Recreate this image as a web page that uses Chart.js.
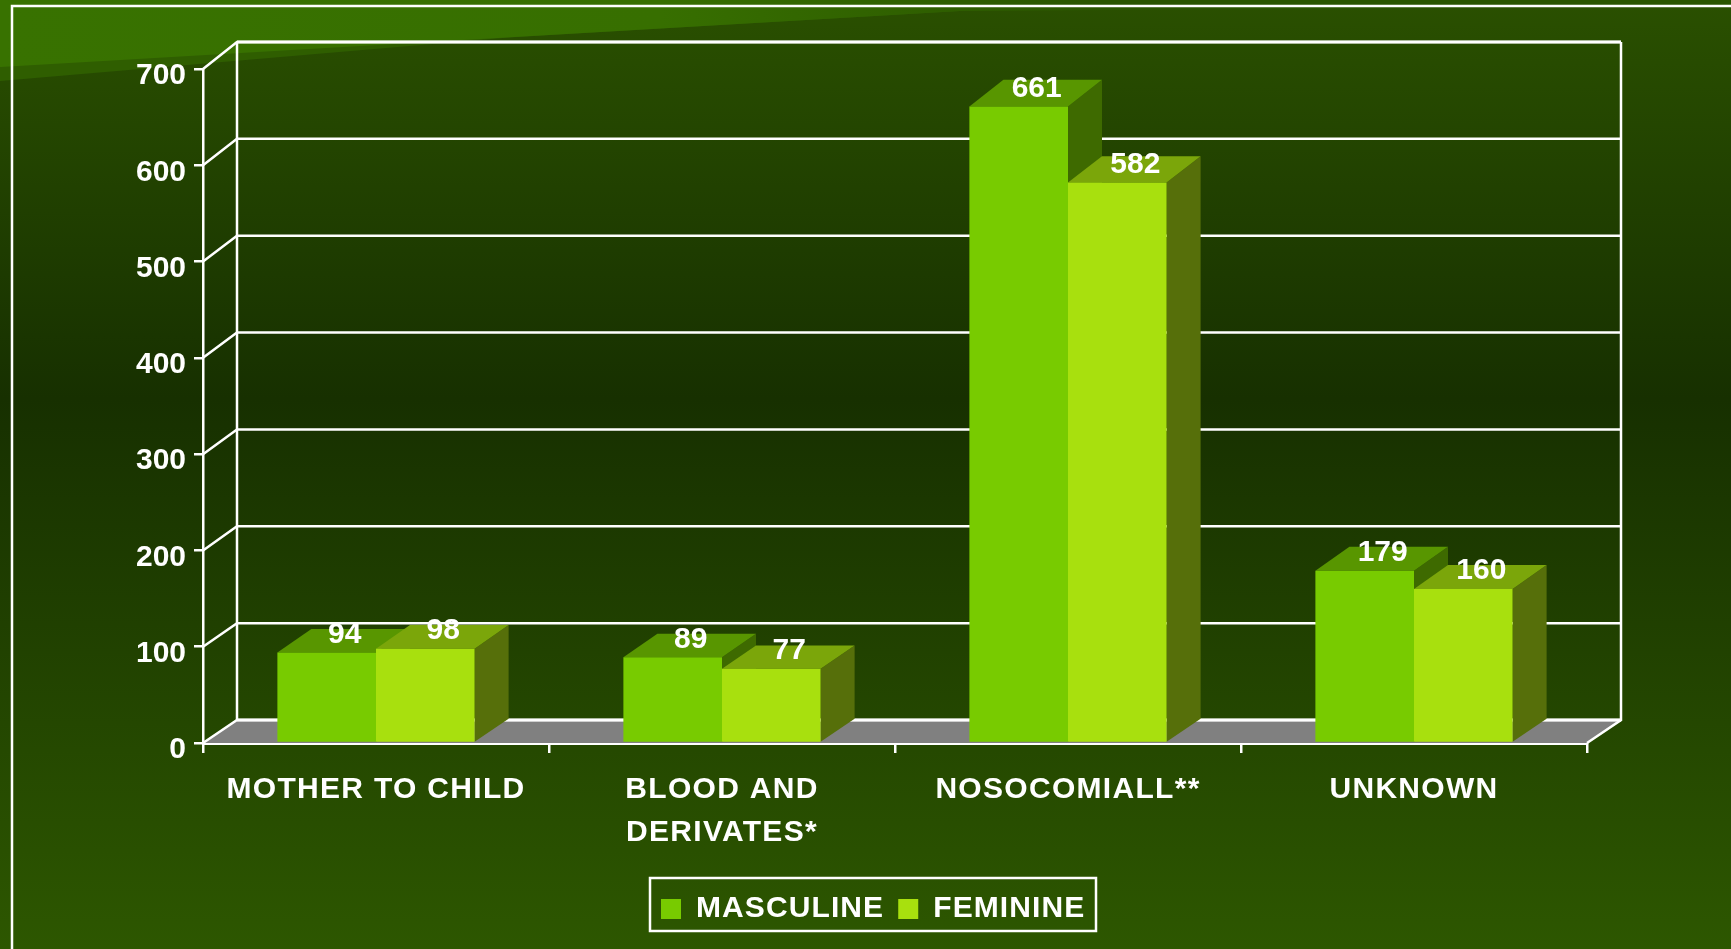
<!DOCTYPE html>
<html><head><meta charset="utf-8">
<style>html,body{margin:0;padding:0;background:#234400;overflow:hidden}canvas{display:block}</style>
<script src="https://cdn.jsdelivr.net/npm/chart.js@4"></script>
</head><body><canvas id="c" width="1731" height="949"></canvas>
<script>
const categories = ['MOTHER TO CHILD', ['BLOOD AND','DERIVATES*'], 'NOSOCOMIALL**', 'UNKNOWN'];
const masculine = [94, 89, 661, 179];
const feminine = [98, 77, 582, 160];
const yTicks = [0,100,200,300,400,500,600,700];

const DX = 34;
const backLift = (v) => 23 + v/700*4;
const faces = [{top:'#589600',side:'#3e6a00'},{top:'#7ba60a',side:'#566f0a'}];

const scene = {
  id:'scene',
  beforeLayout(c){ c.ctx.letterSpacing='1.1px'; },
  afterLayout(c){
    const l=c.legend;
    l.left=647; l.right=1200; l.top=880; l.bottom=932;
    const x=c.scales.x;
    if(!x._ls){ x._ls=true; const o=x.drawLabels.bind(x);
      x.drawLabels=(a)=>{c.ctx.letterSpacing='1.3px';o(a);c.ctx.letterSpacing='0px';}; }
    const y=c.scales.y;
    if(!y._ls){ y._ls=true; const o=y.drawLabels.bind(y);
      y.drawLabels=(a)=>{c.ctx.letterSpacing='0px';o(a);}; }
    if(!l._ls){ l._ls=true; const d=l._draw.bind(l);
      l._draw=()=>{c.ctx.letterSpacing='1.1px';d();c.ctx.letterSpacing='0px';}; }
  },
  beforeDraw(c){
    const g=c.ctx,W=c.width,H=c.height;
    g.letterSpacing='0px';
    g.save();
    const bg=g.createLinearGradient(0,0,0,H);
    bg.addColorStop(0,'#2a5000');bg.addColorStop(.42,'#173000');bg.addColorStop(1,'#2d5700');
    g.fillStyle=bg;g.fillRect(0,0,W,H);
    const h=g.createLinearGradient(0,0,1100,0);
    h.addColorStop(0,'#387200');h.addColorStop(.6,'#376f00');h.addColorStop(1,'#2a5500');
    g.fillStyle='#2f5e00';
    g.beginPath();g.moveTo(0,0);g.lineTo(0,81);g.lineTo(509,37.5);g.lineTo(960,11);g.lineTo(1100,0);g.closePath();g.fill();
    g.fillStyle=h;
    g.beginPath();g.moveTo(0,0);g.lineTo(0,67);g.lineTo(960,11);g.lineTo(1731,6);g.lineTo(1731,0);g.closePath();g.fill();
    g.strokeStyle='#fff';g.lineWidth=2.5;
    g.beginPath();g.moveTo(12,H);g.lineTo(12,6);g.lineTo(W,6);g.stroke();
    g.restore();
  },
  beforeDatasetsDraw(c){
    const g=c.ctx,y=c.scales.y,a=c.chartArea;
    const bp=(v)=>y.getPixelForValue(v)-backLift(v);
    g.save();
    g.fillStyle='#808080';
    g.beginPath();g.moveTo(a.left,a.bottom);g.lineTo(a.left+DX,bp(0));g.lineTo(a.right+DX,bp(0));g.lineTo(a.right,a.bottom);g.closePath();g.fill();
    g.strokeStyle='#fff';g.lineWidth=2.5;
    yTicks.forEach(v=>{
      g.beginPath();g.moveTo(a.left,y.getPixelForValue(v));g.lineTo(a.left+DX,bp(v));g.lineTo(a.right+DX,bp(v));g.stroke();
    });
    g.beginPath();g.moveTo(a.left+DX,bp(0));g.lineTo(a.left+DX,bp(700));g.stroke();
    g.beginPath();g.moveTo(a.right+DX,bp(700));g.lineTo(a.right+DX,bp(0));g.lineTo(a.right,a.bottom);g.stroke();
    g.lineWidth=3;g.beginPath();g.moveTo(a.left+DX,bp(700));g.lineTo(a.right+DX,bp(700));g.stroke();
    g.beginPath();g.moveTo(a.left+DX,bp(0));g.lineTo(a.right+DX,bp(0));g.stroke();
    c.data.datasets.forEach((ds,di)=>{
      c.getDatasetMeta(di).data.forEach((b,i)=>{
        const L=b.x-b.width/2,R=b.x+b.width/2,T=b.y,B=b.base,dy=backLift(ds.data[i]),dx=DX;
        g.fillStyle=faces[di].side;
        g.beginPath();g.moveTo(R,T);g.lineTo(R+dx,T-dy);g.lineTo(R+dx,B-23);g.lineTo(R,B);g.closePath();g.fill();
        g.fillStyle=faces[di].top;
        g.beginPath();g.moveTo(L,T);g.lineTo(L+dx,T-dy);g.lineTo(R+dx,T-dy);g.lineTo(R,T);g.closePath();g.fill();
      });
    });
    g.restore();
  },
  afterDatasetsDraw(c){
    const g=c.ctx;
    g.save();
    g.letterSpacing='0px';
    g.font='bold 30px "Liberation Sans"';g.fillStyle='#fff';g.textAlign='center';g.textBaseline='middle';
    c.data.datasets.forEach((ds,di)=>{
      c.getDatasetMeta(di).data.forEach((b,i)=>{ g.fillText(String(ds.data[i]),b.x+18,b.y-18); });
    });
    g.restore();
  },
  afterDraw(c){
    const g=c.ctx;
    g.save();g.strokeStyle='#fff';g.lineWidth=2.5;g.strokeRect(650,878,446,53);g.restore();
  }
};

new Chart(document.getElementById('c'),{
  type:'bar',
  data:{labels:categories,datasets:[
    {label:'MASCULINE',data:masculine,backgroundColor:'#78cb00',borderWidth:0,categoryPercentage:.57,barPercentage:1},
    {label:'FEMININE',data:feminine,backgroundColor:'#a8e00e',borderWidth:0,categoryPercentage:.57,barPercentage:1}
  ]},
  plugins:[scene],
  options:{
    responsive:false,animation:false,
    layout:{padding:{left:0,top:69,right:144,bottom:0}},
    plugins:{
      tooltip:{enabled:false},
      legend:{position:'bottom',align:'start',
        labels:{color:'#fff',boxWidth:20,boxHeight:20,padding:14,font:{family:'"Liberation Sans"',size:30,weight:'bold'}}}
    },
    scales:{
      x:{
        afterFit(s){s.height=206-s.chart.legend.height;},
        grid:{drawOnChartArea:false,drawTicks:true,tickLength:10,color:'#fff',lineWidth:2.5,offset:true},
        border:{display:true,color:'#fff',width:3},
        ticks:{color:'#fff',padding:15,maxRotation:0,autoSkip:false,font:{family:'"Liberation Sans"',size:30,weight:'bold',lineHeight:1.43}}
      },
      y:{
        min:0,max:700,
        afterFit(s){s.width=203;},
        afterBuildTicks(s){s.ticks=yTicks.map(v=>({value:v}));},
        grid:{drawOnChartArea:false,drawTicks:true,tickLength:9,color:'#fff',lineWidth:2.5},
        border:{display:true,color:'#fff',width:2.5},
        ticks:{color:'#fff',padding:8,labelOffset:7,font:{family:'"Liberation Sans"',size:30,weight:'bold'}}
      }
    }
  }
});
</script></body></html>
